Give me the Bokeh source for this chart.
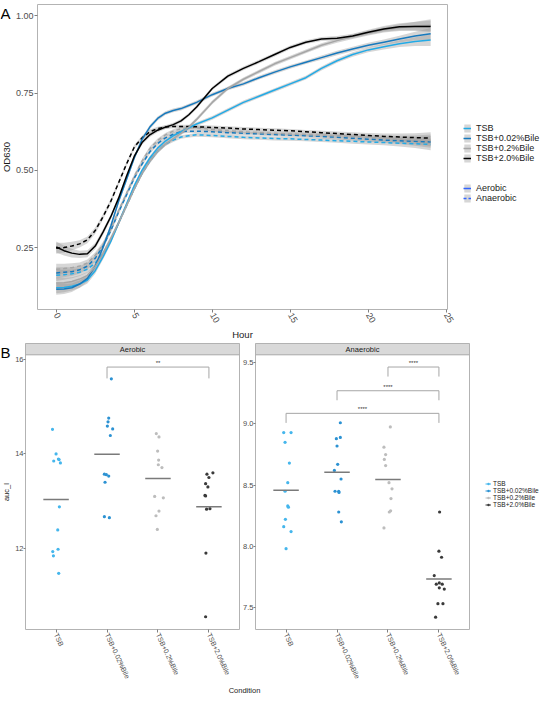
import numpy as np
from bokeh.plotting import figure
from bokeh.models import (Range1d, FixedTicker, PrintfTickFormatter, Legend, LegendItem, Label)
from bokeh.layouts import column, row
from bokeh.embed import file_html
from bokeh.resources import INLINE
from bokeh.core.properties import value

FONT = "Liberation Sans"

# ---------------- data ----------------
conditions = ["TSB", "TSB+0.02%Bile", "TSB+0.2%Bile", "TSB+2.0%Bile"]
hours = [0, 0.5, 1, 1.5, 2, 2.5, 3, 3.5, 4, 4.5, 5, 5.5, 6, 6.5, 7, 7.5, 8, 8.5, 9,
         10, 11, 12, 13, 14, 15, 16, 17, 18, 19, 20, 21, 22, 23, 24]

aer_tsb = [0.120, 0.121, 0.125, 0.132, 0.145, 0.175, 0.22, 0.27, 0.33, 0.39, 0.45, 0.50, 0.54,
           0.572, 0.595, 0.612, 0.625, 0.638, 0.65,
           0.67, 0.695, 0.72, 0.74, 0.76, 0.78, 0.80, 0.83, 0.855, 0.875, 0.89, 0.90, 0.91,
           0.917, 0.922]
aer_002 = [0.115, 0.116, 0.12, 0.132, 0.15, 0.19, 0.25, 0.32, 0.40, 0.47, 0.54, 0.60, 0.64,
           0.668, 0.685, 0.694, 0.70, 0.71, 0.72,
           0.745, 0.765, 0.78, 0.80, 0.818, 0.835, 0.85, 0.865, 0.88, 0.893, 0.905, 0.915,
           0.925, 0.935, 0.942]
aer_02 = [0.135, 0.136, 0.14, 0.148, 0.16, 0.188, 0.23, 0.28, 0.33, 0.385, 0.44, 0.49, 0.53,
          0.562, 0.585, 0.603, 0.62, 0.64, 0.665,
          0.72, 0.765, 0.795, 0.82, 0.845, 0.865, 0.885, 0.905, 0.92, 0.933, 0.945, 0.955,
          0.962, 0.967, 0.97]
aer_20 = [0.252, 0.24, 0.232, 0.228, 0.23, 0.255, 0.30, 0.35, 0.41, 0.48, 0.545, 0.59, 0.615,
          0.63, 0.64, 0.648, 0.66, 0.68, 0.705,
          0.765, 0.805, 0.83, 0.852, 0.875, 0.898, 0.915, 0.925, 0.928, 0.935, 0.947, 0.958,
          0.965, 0.966, 0.966]

ana_tsb = [0.16, 0.162, 0.165, 0.17, 0.18, 0.20, 0.23, 0.275, 0.33, 0.385, 0.44, 0.49, 0.53,
           0.562, 0.585, 0.598, 0.608, 0.612, 0.615,
           0.613, 0.61, 0.607, 0.605, 0.603, 0.602, 0.60, 0.598, 0.596, 0.594, 0.592, 0.59,
           0.588, 0.586, 0.584]
ana_002 = [0.168, 0.17, 0.172, 0.178, 0.19, 0.215, 0.255, 0.305, 0.365, 0.42, 0.475, 0.52, 0.56,
           0.587, 0.605, 0.617, 0.625, 0.627, 0.627,
           0.625, 0.622, 0.62, 0.618, 0.616, 0.614, 0.612, 0.61, 0.607, 0.604, 0.601, 0.598,
           0.596, 0.594, 0.592]
ana_02 = [0.18, 0.182, 0.185, 0.19, 0.20, 0.225, 0.26, 0.31, 0.37, 0.425, 0.48, 0.53, 0.57,
          0.597, 0.615, 0.627, 0.635, 0.638, 0.638,
          0.632, 0.628, 0.625, 0.622, 0.62, 0.618, 0.616, 0.614, 0.612, 0.61, 0.607, 0.604,
          0.601, 0.599, 0.597]
ana_20 = [0.248, 0.25, 0.255, 0.262, 0.275, 0.305, 0.35, 0.40, 0.46, 0.52, 0.575, 0.605, 0.625,
          0.635, 0.64, 0.642, 0.642, 0.642, 0.641,
          0.639, 0.637, 0.634, 0.632, 0.63, 0.628, 0.625, 0.622, 0.619, 0.616, 0.613, 0.61,
          0.608, 0.606, 0.604]

ci_half = [0.018, 0.016, 0.014, 0.012, 0.011, 0.010, 0.009, 0.008, 0.0075, 0.007, 0.007, 0.007,
           0.007, 0.0065, 0.006, 0.006, 0.006, 0.006, 0.006,
           0.006, 0.006, 0.006, 0.006, 0.006, 0.006, 0.006, 0.0065, 0.007, 0.0075, 0.008, 0.009,
           0.011, 0.014, 0.019]

# Aerobic auc_l
aer_tsb_auc = [14.52, 14.0, 13.85, 13.89, 13.88, 13.81, 12.88, 12.39, 11.93, 11.98, 11.84, 11.47]
aer_tsb_jit = [-0.07, 0.0, -0.046, 0.046, 0.059, 0.085, 0.065, 0.033, -0.065, 0.039, -0.052, 0.052]
aer_002_auc = [15.59, 14.76, 14.68, 14.59, 14.53, 14.39, 13.57, 13.56, 13.53, 13.40, 12.67, 12.65]
aer_002_jit = [0.085, 0.033, 0.02, 0.007, 0.111, 0.065, -0.052, -0.013, 0.033, -0.039, -0.052, 0.046]
aer_02_auc = [14.43, 14.36, 14.06, 13.87, 13.77, 13.71, 13.10, 13.07, 12.79, 12.69, 12.40]
aer_02_jit = [-0.033, 0.02, -0.007, 0.013, 0.007, 0.078, -0.065, 0.105, 0.02, -0.039, -0.013]
aer_20_auc = [13.57, 13.60, 13.50, 13.37, 13.30, 13.12, 13.11, 12.83, 12.84, 11.90, 10.55]
aer_20_jit = [-0.039, 0.078, 0.0, -0.065, -0.02, -0.078, -0.065, -0.046, 0.02, -0.059, -0.065]

# Anaerobic auc_l
ana_tsb_auc = [8.93, 8.93, 8.85, 8.68, 8.52, 8.45, 8.33, 8.32, 8.22, 8.16, 8.12, 7.98]
ana_tsb_jit = [-0.046, 0.098, -0.02, 0.065, 0.033, -0.02, 0.033, 0.046, -0.013, -0.046, 0.098, 0.0]
ana_002_auc = [9.01, 8.88, 8.89, 8.82, 8.67, 8.62, 8.55, 8.45, 8.45, 8.44, 8.28, 8.20]
ana_002_jit = [0.065, -0.013, 0.065, 0.0, 0.013, -0.052, 0.079, 0.033, -0.039, 0.039, 0.033, 0.085]
ana_02_auc = [8.976, 8.81, 8.75, 8.71, 8.66, 8.52, 8.47, 8.39, 8.29, 8.28, 8.15]
ana_02_jit = [0.046, -0.079, -0.046, -0.072, -0.046, 0.02, 0.079, 0.059, 0.052, 0.026, -0.079]
ana_20_auc = [8.28, 7.96, 7.91, 7.76, 7.69, 7.70, 7.69, 7.66, 7.65, 7.53, 7.53, 7.42]
ana_20_jit = [0.013, 0.0, 0.052, -0.092, -0.052, 0.007, 0.065, 0.007, 0.105, -0.02, 0.079, -0.065]

# significance brackets
aer_sig_pairs = [("TSB+0.02%Bile", "TSB+2.0%Bile")]
aer_sig_y = [15.84]
aer_sig_labels = ["**"]
ana_sig_pairs = [("TSB", "TSB+2.0%Bile"), ("TSB+0.02%Bile", "TSB+2.0%Bile"),
                 ("TSB+0.2%Bile", "TSB+2.0%Bile")]
ana_sig_y = [9.087, 9.272, 9.466]
ana_sig_labels = ["****", "****", "****"]

# ---------------- styles ----------------
line_colors = ["#22AAE6", "#1779BD", "#A6A6A6", "#000000"]
pt_colors = ["#45B6EC", "#2C92D3", "#BDBDBD", "#3A3A3A"]
TICK_TXT = "#4D4D4D"
BORDER = "#B3B3B3"
NAN = [float("nan")]


def style_axes(p, tick_size, label_size):
    for ax in (p.xaxis + p.yaxis):
        ax.axis_line_color = None
        ax.major_tick_line_color = "#7F7F7F"
        ax.major_tick_out = 3
        ax.major_tick_in = 0
        ax.minor_tick_out = 0
        ax.minor_tick_in = 0
        ax.minor_tick_line_color = None
        ax.major_label_text_font = FONT
        ax.major_label_text_font_size = tick_size
        ax.major_label_text_color = TICK_TXT
        ax.major_label_standoff = 1
        ax.axis_label_text_font = FONT
        ax.axis_label_text_font_size = label_size
        ax.axis_label_text_font_style = "normal"
        ax.axis_label_text_color = "#1A1A1A"
        ax.axis_label_standoff = 1
    p.grid.visible = False
    p.outline_line_color = BORDER
    p.outline_line_width = 1


def style_legend(lg, size, gw, gh, standoff):
    lg.label_text_font = FONT
    lg.label_text_font_size = size
    lg.label_text_color = "#1A1A1A"
    lg.glyph_width = gw
    lg.glyph_height = gh
    lg.label_height = gh
    lg.label_standoff = standoff
    lg.spacing = 0
    lg.padding = 0
    lg.margin = 0
    lg.border_line_color = None
    lg.background_fill_alpha = 0


def side_strip(y_range, frame_h, border_top):
    # narrow, axis-less canvas sharing the neighbour's y scale; carries titles / panel tags
    s = figure(frame_width=12, frame_height=frame_h, x_range=Range1d(0, 12), y_range=y_range,
               x_axis_location=None, y_axis_location=None,
               output_backend="svg", toolbar_location=None,
               min_border_left=0, min_border_right=0, min_border_top=border_top,
               min_border_bottom=0)
    s.grid.visible = False
    s.outline_line_color = None
    return s


# ---------------- top panel ----------------
TOP_FH = 305
top_y = Range1d(0.0495, 1.037)
top = figure(frame_width=410, frame_height=TOP_FH,
             x_range=Range1d(-1.2, 25.08), y_range=top_y,
             output_backend="svg", toolbar_location=None,
             min_border_left=23, min_border_right=89, min_border_top=4, min_border_bottom=0)
style_axes(top, "9px", "9.5px")
top.xaxis.ticker = FixedTicker(ticks=[0, 5, 10, 15, 20, 25])
top.xaxis.major_label_orientation = -np.pi / 3
top.xaxis.axis_label = "Hour"
top.yaxis.ticker = FixedTicker(ticks=[0.25, 0.5, 0.75, 1.0])
top.yaxis.formatter = PrintfTickFormatter(format="%.2f")

aer_curves = [aer_tsb, aer_002, aer_02, aer_20]
ana_curves = [ana_tsb, ana_002, ana_02, ana_20]
ci = np.array(ci_half)
aer_rib = []
for k, c in enumerate(aer_curves + ana_curves):
    c = np.array(c)
    r = top.varea(x=hours, y1=c - ci, y2=c + ci, fill_color="#999999", fill_alpha=0.4)
    if k < 4:
        aer_rib.append(r)
aer_lines = []
for i, c in enumerate(ana_curves):
    top.line(hours, c, line_color=line_colors[i], line_width=1.5, line_dash="4 3")
for i, c in enumerate(aer_curves):
    aer_lines.append(top.line(hours, c, line_color=line_colors[i], line_width=1.5))

# legend proxies (NaN data: nothing is drawn in the plot area)
key_rib = top.varea(x=NAN, y1=NAN, y2=NAN, fill_color="#999999", fill_alpha=0.4)
key_aer = top.line(x=NAN, y=NAN, line_color="#3366FF", line_width=1.5)
key_ana = top.line(x=NAN, y=NAN, line_color="#3366FF", line_width=1.5, line_dash="3 2")
spacer = top.line(x=NAN, y=NAN, line_alpha=0)

items1 = [LegendItem(label=cond, renderers=[aer_rib[i], aer_lines[i]])
          for i, cond in enumerate(conditions)]
items1 += [LegendItem(label=" " * (k + 1), renderers=[spacer]) for k in range(2)]
items1 += [LegendItem(label="Aerobic", renderers=[key_rib, key_aer]),
           LegendItem(label="Anaerobic", renderers=[key_rib, key_ana])]
leg1 = Legend(items=items1, location=(16, 106))
style_legend(leg1, "9px", 8, 10, 5)
top.add_layout(leg1, "right")

stripA = side_strip(top_y, TOP_FH, 4)
stripA.text(x=[0], y=[top_y.end], text=["A"], text_align="left", text_baseline="top",
            text_font=value(FONT), text_font_size="15px", text_color="#000000")
stripA.text(x=[6], y=[(top_y.start + top_y.end) / 2], text=["OD630"], angle=np.pi / 2,
            text_align="center", text_baseline="middle",
            text_font=value(FONT), text_font_size="9.5px", text_color="#1A1A1A")

# ---------------- bottom panels ----------------
BOT_FH = 286
STRIP_PX = 11.3


def make_panel(title, y_lo, y_hi, ticks, fmt, vals, jits, sig_pairs, sig_y, sig_labels, tip,
               bl, br):
    y_top = y_hi + (y_hi - y_lo) * STRIP_PX / (BOT_FH - STRIP_PX)
    yr = Range1d(y_lo, y_top)
    p = figure(frame_width=214, frame_height=BOT_FH,
               x_range=Range1d(0.4, 4.6), y_range=yr,
               output_backend="svg", toolbar_location=None,
               min_border_left=bl, min_border_right=br, min_border_top=0, min_border_bottom=0)
    style_axes(p, "7.5px", "7.5px")
    p.yaxis.major_tick_out = 2
    p.yaxis.major_label_standoff = 0
    p.xaxis.ticker = FixedTicker(ticks=[1, 2, 3, 4])
    p.xaxis.major_label_overrides = {i + 1: c for i, c in enumerate(conditions)}
    p.xaxis.major_label_orientation = -65 * np.pi / 180
    p.xaxis.major_label_text_font_size = "7px"
    p.yaxis.ticker = FixedTicker(ticks=ticks)
    p.yaxis.formatter = PrintfTickFormatter(format=fmt)
    # facet strip
    p.quad(left=[0.4], right=[4.6], bottom=[y_hi], top=[y_top], fill_color="#D9D9D9",
           line_color="#A8A8A8", line_width=1)
    p.text(x=[2.5], y=[(y_hi + y_top) / 2], text=[title], text_align="center",
           text_baseline="middle", text_font=value(FONT), text_font_size="7.5px",
           text_color="#1A1A1A")
    pts = []
    for i, (v, j) in enumerate(zip(vals, jits)):
        x = np.array(j) + i + 1
        pts.append(p.scatter(x, v, size=3.2, fill_color=pt_colors[i], line_color=None))
        m = float(np.mean(v))
        p.segment(x0=[i + 1 - 0.25], x1=[i + 1 + 0.25], y0=[m], y1=[m],
                  line_color="#7A7A7A", line_width=1.5)
    for (g1, g2), yy, lab in zip(sig_pairs, sig_y, sig_labels):
        x1 = conditions.index(g1) + 1
        x2 = conditions.index(g2) + 1
        p.multi_line(xs=[[x1, x1, x2, x2]], ys=[[yy - tip, yy, yy, yy - tip]],
                     line_color="#A6A6A6", line_width=1)
        p.text(x=[(x1 + x2) / 2], y=[yy], text=[lab], text_align="center",
               text_baseline="bottom", y_offset=-1, text_font=value(FONT),
               text_font_size="6px", text_color="#333333")
    return p, pts, yr, y_hi


left, _, left_y, left_panel_top = make_panel(
    "Aerobic", 10.28, 16.1, [12, 14, 16], "%d",
    [aer_tsb_auc, aer_002_auc, aer_02_auc, aer_20_auc],
    [aer_tsb_jit, aer_002_jit, aer_02_jit, aer_20_jit],
    aer_sig_pairs, aer_sig_y, aer_sig_labels, 0.24, 11, 1)
right, rpts, _, _ = make_panel(
    "Anaerobic", 7.319, 9.566, [7.5, 8.0, 8.5, 9.0, 9.5], "%.1f",
    [ana_tsb_auc, ana_002_auc, ana_02_auc, ana_20_auc],
    [ana_tsb_jit, ana_002_jit, ana_02_jit, ana_20_jit],
    ana_sig_pairs, ana_sig_y, ana_sig_labels, 0.078, 15, 68)

items = []
for i, cond in enumerate(conditions):
    dl = right.line(x=NAN, y=NAN, line_color=pt_colors[i], line_width=1)
    items.append(LegendItem(label=cond, renderers=[dl, rpts[i]]))
leg3 = Legend(items=items, location=(16, 121))
style_legend(leg3, "6.5px", 6, 7, 2)
right.add_layout(leg3, "right")

stripB = side_strip(left_y, BOT_FH, 0)
stripB.text(x=[0], y=[left_y.end], text=["B"], text_align="left", text_baseline="top",
            text_font=value(FONT), text_font_size="15px", text_color="#000000")
stripB.text(x=[6], y=[(left_y.start + left_panel_top) / 2], text=["auc_l"], angle=np.pi / 2,
            text_align="center", text_baseline="middle",
            text_font=value(FONT), text_font_size="7.5px", text_color="#1A1A1A")

# shared x title of the facets
condf = figure(width=534, height=12, x_axis_location=None, y_axis_location=None,
               output_backend="svg", toolbar_location=None, min_border=0)
condf.grid.visible = False
condf.outline_line_color = None
condf.add_layout(Label(x=244, y=6, x_units="screen", y_units="screen", text="Condition",
                       text_align="center", text_baseline="middle",
                       text_font=FONT, text_font_size="7.5px", text_color="#1A1A1A"))

layout = column(row(stripA, top), row(stripB, left, right), condf)
open("out.html", "w").write(file_html(layout, INLINE))
